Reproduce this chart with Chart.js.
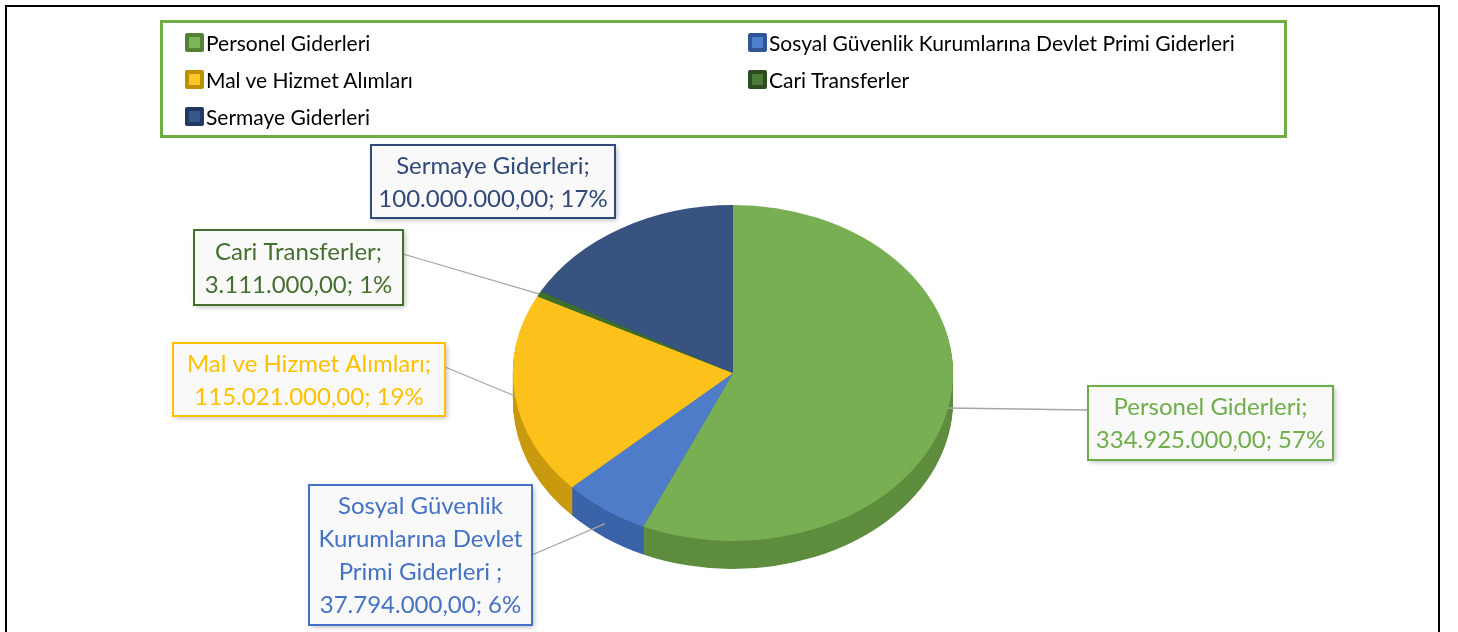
<!DOCTYPE html>
<html>
<head>
<meta charset="utf-8">
<script src="https://cdn.jsdelivr.net/npm/chart.js@4.4.1/dist/chart.umd.min.js"></script>
<style>
  html, body { margin: 0; padding: 0; background: #fff; overflow: hidden; }
  #wrap { position: relative; width: 1458px; height: 632px; }
  #frame { position: absolute; left: 5px; top: 5px; width: 1431px; height: 700px; border: 2px solid #000; border-bottom: none; }
  #legend { position: absolute; left: 160px; top: 20px; width: 1121px; height: 112px; border: 3px solid #70AD47; font-family: Lato, sans-serif; font-size: 21px; color: #000; }
  .item { position: absolute; display: flex; align-items: center; height: 24px; white-space: nowrap; }
  .mark { width: 11px; height: 11px; border: 4px solid; border-radius: 2px; margin-right: 2px; }
  canvas { position: absolute; left: 0; top: 0; }
</style>
</head>
<body>
<div id="wrap">
  <div id="frame"></div>
  <canvas id="c" width="1458" height="632"></canvas>
  <div id="legend"></div>
</div>
<script>
const categories = [
  'Personel Giderleri',
  'Sosyal Güvenlik Kurumlarına Devlet Primi Giderleri',
  'Mal ve Hizmet Alımları',
  'Cari Transferler',
  'Sermaye Giderleri'
];
const amounts = [334925000, 37794000, 115021000, 3111000, 100000000];

const topColors = ['#79AF53', '#4F7CC9', '#FDC11B', '#3E6E2C', '#38537F'];
const sideColors = ['#5E8D3E', '#3B63A8', '#C99A0E', '#2D5020', '#283D60'];
const markOuter = ['#548235', '#2F5597', '#BF9000', '#2E4D1E', '#1F3864'];
const markInner = ['#7DB55A', '#4F80CF', '#FFC726', '#4E7A3A', '#3A5689'];
const labelColors = ['#6EAE4A', '#4472C4', '#FFC000', '#456F2E', '#2F4A7A'];

// callout boxes (layout only)
const labelBoxes = [
  { x: 1088, y: 386, w: 245, h: 74, leader: true },
  { x: 309, y: 485, w: 223, h: 140, leader: true, wrap: 215 },
  { x: 173, y: 343, w: 272, h: 73, leader: true },
  { x: 194, y: 230, w: 209, h: 75, leader: true },
  { x: 371, y: 145, w: 244, h: 73, leader: false }
];

const tilt = 168 / 220;
const depth = 28;
const font = '24px Lato, sans-serif';

function fmt(n) {
  return Math.round(n).toString().replace(/\B(?=(\d{3})+(?!\d))/g, '.') + ',00';
}

// legend
const legend = document.getElementById('legend');
categories.forEach((name, i) => {
  const el = document.createElement('div');
  el.className = 'item';
  el.style.left = (i % 2 === 0 ? 22 : 585) + 'px';
  el.style.top = (7 + Math.floor(i / 2) * 37) + 'px';
  el.innerHTML = '<span class="mark" style="border-color:' + markOuter[i] + ';background:' + markInner[i] + '"></span>' + name;
  legend.appendChild(el);
});

const tiltPlugin = {
  id: 'tilt',
  beforeDatasetsDraw(chart) {
    const ctx = chart.ctx;
    const meta = chart.getDatasetMeta(0);
    const cx = meta.data[0].x, cy = meta.data[0].y;
    // side of the disc
    for (let d = depth; d > 0; d--) {
      ctx.save();
      ctx.translate(0, d);
      ctx.translate(cx, cy);
      ctx.scale(1, tilt);
      ctx.translate(-cx, -cy);
      meta.data.forEach((arc, i) => {
        const orig = arc.options;
        arc.options = Object.assign({}, orig, { backgroundColor: sideColors[i], borderColor: sideColors[i] });
        arc.draw(ctx);
        arc.options = orig;
      });
      ctx.restore();
    }
    ctx.save();
    ctx.translate(cx, cy);
    ctx.scale(1, tilt);
    ctx.translate(-cx, -cy);
  },
  afterDatasetsDraw(chart) {
    chart.ctx.restore();
  }
};

const calloutPlugin = {
  id: 'callouts',
  afterDraw(chart) {
    const ctx = chart.ctx;
    const meta = chart.getDatasetMeta(0);
    const total = amounts.reduce((s, v) => s + v, 0);
    ctx.save();
    ctx.font = font;
    // leaders
    meta.data.forEach((arc, i) => {
      const b = labelBoxes[i];
      if (!b.leader) return;
      const mid = (arc.startAngle + arc.endAngle) / 2;
      const r = arc.outerRadius;
      const ax = arc.x + Math.cos(mid) * r;
      let ay = arc.y + Math.sin(mid) * r * tilt;
      if (Math.sin(mid) > 0.3) ay += depth / 2;
      const bx = b.x + b.w / 2 < ax ? b.x + b.w : b.x;
      const by = b.y + (b.h > 100 ? b.h / 2 : 24);
      ctx.strokeStyle = '#A6A6A6';
      ctx.lineWidth = 1.3;
      ctx.beginPath();
      ctx.moveTo(bx, by);
      ctx.lineTo(ax, ay);
      ctx.stroke();
    });
    // boxes
    meta.data.forEach((arc, i) => {
      const b = labelBoxes[i];
      const pct = Math.round(amounts[i] / total * 100);
      let lines;
      if (b.wrap) {
        const words = (categories[i] + ' ;').split(' ');
        lines = [];
        let cur = '';
        words.forEach(w => {
          const t = cur ? cur + ' ' + w : w;
          if (ctx.measureText(t).width > b.wrap && cur) { lines.push(cur); cur = w; } else cur = t;
        });
        lines.push(cur);
      } else {
        lines = [categories[i] + ';'];
      }
      lines.push(fmt(amounts[i]) + '; ' + pct + '%');
      ctx.save();
      ctx.shadowColor = 'rgba(0,0,0,0.28)';
      ctx.shadowBlur = 5;
      ctx.shadowOffsetX = 2;
      ctx.shadowOffsetY = 2;
      ctx.fillStyle = '#F9F9F9';
      ctx.fillRect(b.x, b.y, b.w, b.h);
      ctx.restore();
      ctx.strokeStyle = labelColors[i];
      ctx.lineWidth = 2;
      ctx.strokeRect(b.x, b.y, b.w, b.h);
      ctx.fillStyle = labelColors[i];
      ctx.textAlign = 'center';
      ctx.textBaseline = 'middle';
      const lh = 33;
      const y0 = b.y + b.h / 2 - (lines.length - 1) * lh / 2;
      lines.forEach((t, k) => ctx.fillText(t, b.x + b.w / 2, y0 + k * lh + 1));
    });
    ctx.restore();
  }
};

new Chart(document.getElementById('c'), {
  type: 'pie',
  data: {
    labels: categories,
    datasets: [{
      data: amounts,
      backgroundColor: topColors,
      borderWidth: 0
    }]
  },
  options: {
    responsive: false,
    animation: false,
    radius: 220,
    layout: { padding: { left: 8, right: 0, top: 114, bottom: 0 } },
    plugins: {
      legend: { display: false },
      tooltip: { enabled: false }
    }
  },
  plugins: [tiltPlugin, calloutPlugin]
});
</script>
</body>
</html>
